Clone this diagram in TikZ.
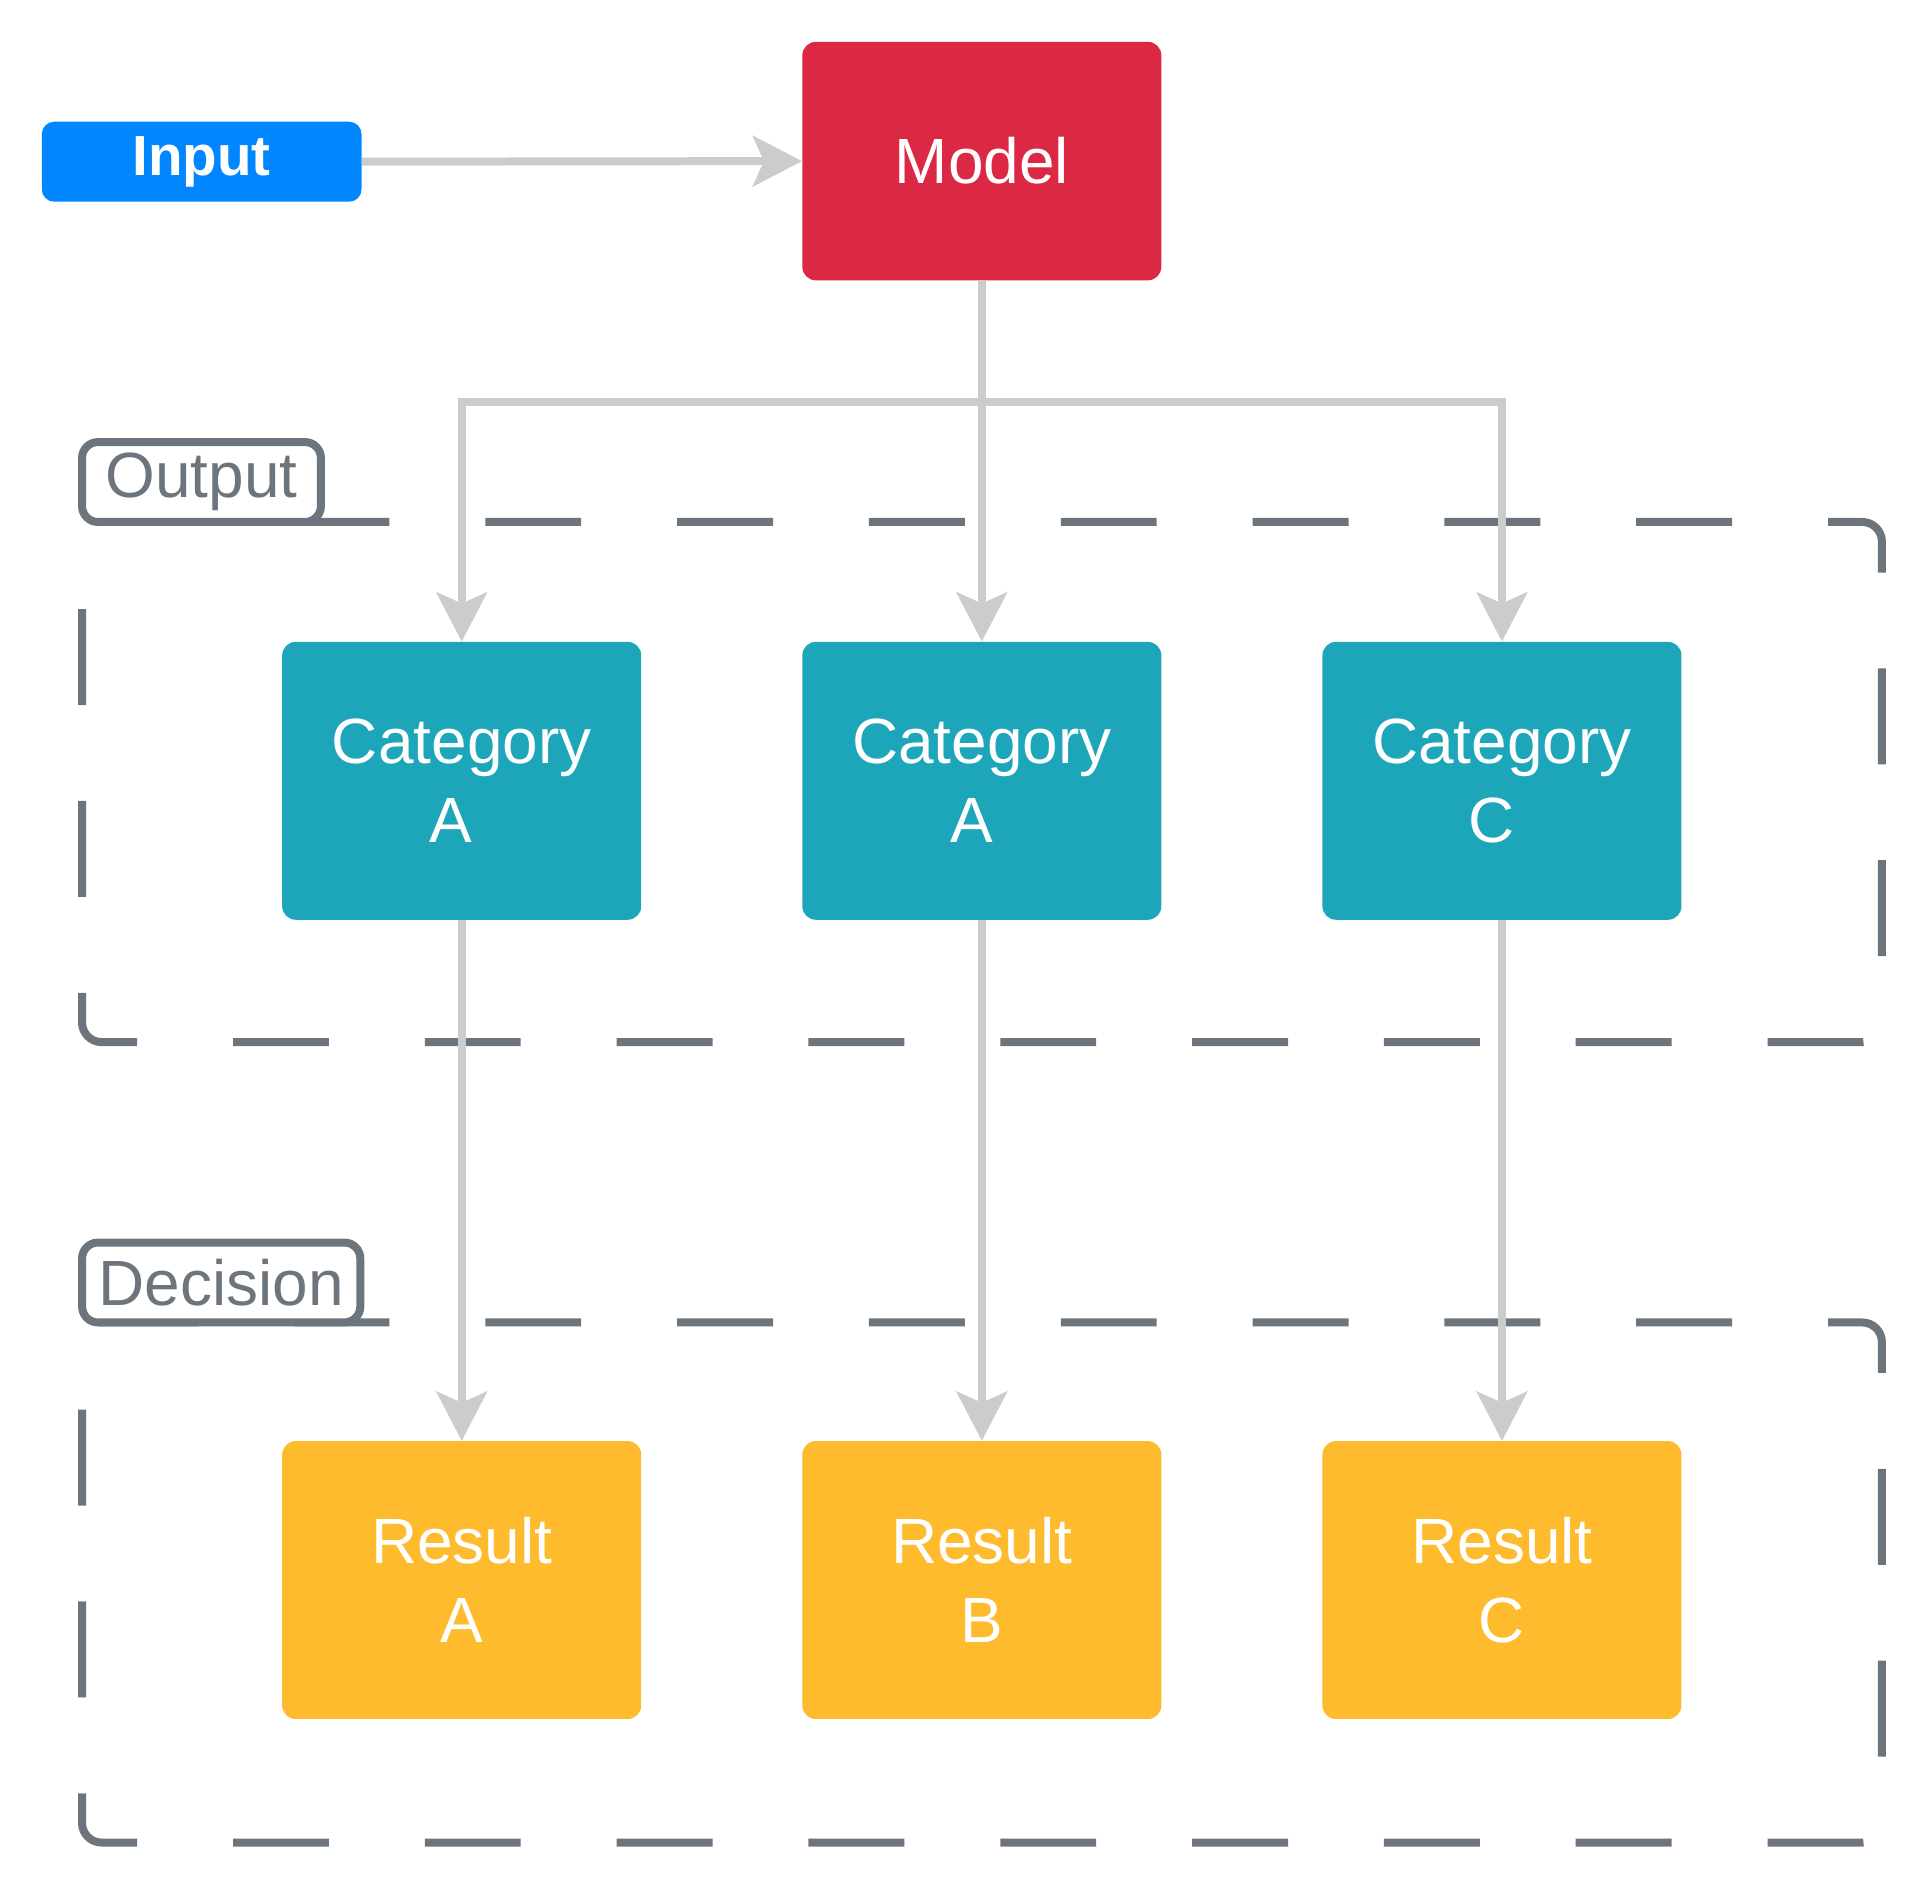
\documentclass[tikz,border=0pt]{standalone}
\usepackage{fontspec}
\setmainfont{Liberation Sans}
\usetikzlibrary{arrows.meta}
\definecolor{inblue}{RGB}{0,135,255}
\definecolor{modred}{RGB}{219,40,68}
\definecolor{catteal}{RGB}{29,165,185}
\definecolor{resyel}{RGB}{253,187,45}
\definecolor{grpgray}{RGB}{108,117,125}
\definecolor{arrgray}{RGB}{204,204,204}
\begin{document}
\begin{tikzpicture}[x=1pt,y=-1pt,
  box/.style={rectangle, rounded corners=11pt, inner sep=0pt, minimum width=292pt,
    minimum height=226pt, text=white, align=center, font=\fontsize{52}{64}\selectfont},
  catbox/.style={box, fill=catteal},
  resbox/.style={box, fill=resyel},
  grp/.style={draw=grpgray, line width=6.5pt, rounded corners=16pt, dash pattern=on 78pt off 78pt},
  lbl/.style={rectangle, draw=grpgray, line width=6.5pt, fill=white, rounded corners=13pt,
    inner sep=0pt, minimum height=65pt, text=grpgray, font=\fontsize{52}{64}\selectfont},
  arr/.style={draw=arrgray, line width=6.5pt, -{Stealth[length=40pt, width=41pt, inset=9pt]}}
]
\useasboundingbox (0,0) rectangle (1568,1535);

% groups
\draw[grp] (82.7,424.5) -- (1530.5,424.5) -- (1530.5,847.5) -- (66.7,847.5) -- (66.7,424.5) -- (82.7,424.5);
\draw[grp] (82.7,1075.5) -- (1530.5,1075.5) -- (1530.5,1498.5) -- (66.7,1498.5) -- (66.7,1075.5) -- (82.7,1075.5);
\node[lbl, minimum width=194.3pt] (outlbl) at (163.85,392) {Output};
\node[lbl, minimum width=226.3pt] (declbl) at (179.9,1043) {Decision};

% nodes
\node[rectangle, rounded corners=10pt, fill=inblue, inner sep=0pt, minimum width=260pt,
  minimum height=65pt, text=white, font=\fontsize{46}{55}\selectfont\bfseries] (input) at (164,131.5) {Input};
\node[box, fill=modred, minimum width=292pt, minimum height=194pt] (model) at (798.5,131) {Model};

\node[catbox] (catA) at (375.5,635) {Category\\A\rule{17pt}{0pt}};
\node[catbox] (catB) at (798.5,635) {Category\\A\rule{17pt}{0pt}};
\node[catbox] (catC) at (1221.5,635) {Category\\C\rule{17pt}{0pt}};

\node[resbox] (resA) at (375.5,1285) {Result\\A};
\node[resbox] (resB) at (798.5,1285) {Result\\B};
\node[resbox] (resC) at (1221.5,1285) {Result\\C};

% connectors
\coordinate (bus) at (0,327);
\draw[arr] (input.east) -- (model.west);
\draw[arr] (model.south) -- (model.south |- bus) -- (catA.north |- bus) -- (catA.north);
\draw[arr] (model.south) -- (catB.north);
\draw[arr] (model.south) -- (model.south |- bus) -- (catC.north |- bus) -- (catC.north);
\draw[arr] (catA.south) -- (resA.north);
\draw[arr] (catB.south) -- (resB.north);
\draw[arr] (catC.south) -- (resC.north);
\end{tikzpicture}
\end{document}
